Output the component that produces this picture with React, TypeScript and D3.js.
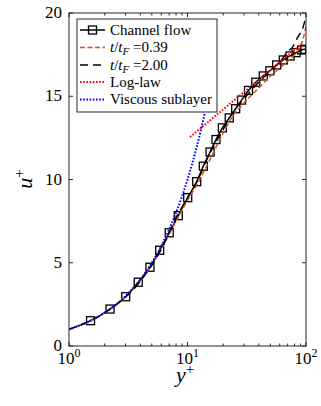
import React from 'react';
import * as d3 from 'd3';

const W = 321;
const H = 406;

// Channel flow (DNS) profile
const channelYp = [1, 1.52, 2.22, 3.01, 3.84, 4.82, 5.82, 7.01, 8.36, 10.04, 11.96, 13.6, 15.5, 17.4, 19.7, 22.5, 25.5, 28.6, 32.7, 37.7, 43.6, 49.6, 56.5, 64.3, 73.3, 82.5, 91.8, 98];
const channelUp = [1, 1.52, 2.22, 2.96, 3.83, 4.73, 5.75, 6.8, 7.83, 8.91, 9.87, 10.8, 11.65, 12.4, 13.1, 13.7, 14.25, 14.77, 15.35, 15.84, 16.22, 16.53, 16.88, 17.18, 17.42, 17.62, 17.78, 17.82];

// t/tF = 0.39
const t039Yp = [1, 2, 4, 6, 8, 10, 12, 15, 20, 24.4, 30, 40.9, 50, 60.3, 70, 78, 89, 95, 100];
const t039Up = [1, 2, 3.9, 5.8, 7.5, 8.75, 9.7, 11.0, 12.8, 13.87, 14.6, 15.57, 16.2, 16.7, 17.1, 17.4, 17.98, 18.5, 19.2];

// t/tF = 2.00
const t200Yp = [1, 2, 4, 6, 8, 10, 12, 15, 20, 25, 30, 40, 50, 60, 70.6, 77.8, 85.7, 93, 100];
const t200Up = [1, 2, 3.9, 5.8, 7.7, 8.9, 9.87, 11.4, 13.0, 14.2, 14.85, 15.85, 16.5, 17.05, 17.7, 18.0, 18.58, 19.0, 19.8];

// Log-law
const logLawYp = [10.5, 94.3];
const logLawUp = [12.55, 18.2];

// Viscous sublayer u+ = y+
const viscYp = [1, 1.5, 2, 3, 4, 5, 6, 7, 8, 9, 10, 11, 12, 13, 14];
const viscUp = [1, 1.5, 2, 3, 4, 5, 6, 7, 8, 9, 10, 11, 12, 13, 14];

const yTicks = [0, 5, 10, 15, 20];
const xTicks = [1, 10, 100];
const xTickExp = ['0', '1', '2'];

const FONT = '"Liberation Serif"';
const AX = '#262626';
const ORANGE = '#D95319';

export default function App() {
  const L = 69, R = 306, T = 13, B = 346;
  const x = d3.scaleLog().domain([1, 100]).range([L, R]);
  const y = d3.scaleLinear().domain([0, 20]).range([B, T]);

  const mk = (xs: number[], ys: number[]) =>
    d3.line<number>().x((_, i) => x(xs[i])).y((_, i) => y(ys[i])).curve(d3.curveMonotoneX)(xs.map((_, i) => i)) || '';

  const minor: number[] = [];
  for (const dec of [1, 10]) for (let k = 2; k <= 9; k++) minor.push(dec * k);

  const legX0 = 77, legY0 = 19, legW = 140, legH = 93;
  const rows = [30, 47.5, 65, 82, 99.5];
  const s0 = 80, s1 = 105, tx = 110;
  const lfs = 15;
  const ts = { fontFamily: FONT };

  return (
    <svg width={W} height={H} style={{ position: 'absolute', left: 0, top: 0, background: '#fff' }}>
      <defs>
        <clipPath id="plot"><rect x={L} y={T} width={R - L} height={B - T} /></clipPath>
      </defs>
      <rect x={0} y={0} width={W} height={H} fill="#fff" />
      <g clipPath="url(#plot)">
        <path d={mk(channelYp, channelUp)} fill="none" stroke="#000" strokeWidth={1.5} />
        {channelYp.slice(1).map((v, i) => (
          <rect key={i} x={x(v) - 4} y={y(channelUp[i + 1]) - 4} width={8} height={8} fill="none" stroke="#000" strokeWidth={1.3} />
        ))}
        <path d={mk(t039Yp, t039Up)} fill="none" stroke={ORANGE} strokeWidth={1.5} strokeDasharray="5,2.5" />
        <path d={mk(t200Yp, t200Up)} fill="none" stroke="#000" strokeWidth={1.5} strokeDasharray="8,5" />
        <path d={mk(logLawYp, logLawUp)} fill="none" stroke="#FF0000" strokeWidth={2} strokeDasharray="1.6,1.6" />
        <path d={mk(viscYp, viscUp)} fill="none" stroke="#0000FF" strokeWidth={2} strokeDasharray="1.6,1.6" />
      </g>

      {/* axes box */}
      <rect x={L} y={T} width={R - L} height={B - T} fill="none" stroke={AX} strokeWidth={1} />
      {yTicks.map((t) => (
        <g key={'y' + t}>
          <line x1={L} x2={L + 4} y1={y(t)} y2={y(t)} stroke={AX} />
          <line x1={R} x2={R - 4} y1={y(t)} y2={y(t)} stroke={AX} />
          <text x={62} y={y(t) + 5} textAnchor="end" fontSize={17} fill="#000" style={ts}>{t}</text>
        </g>
      ))}
      {xTicks.map((t, i) => (
        <g key={'x' + t}>
          <line x1={x(t)} x2={x(t)} y1={B} y2={B - 4} stroke={AX} />
          <line x1={x(t)} x2={x(t)} y1={T} y2={T + 4} stroke={AX} />
          <text x={x(t)} y={364} textAnchor="middle" fontSize={17} fill="#000" style={ts}>
            10<tspan fontSize={12} dy={-7}>{xTickExp[i]}</tspan>
          </text>
        </g>
      ))}
      {minor.map((t) => (
        <g key={'m' + t}>
          <line x1={x(t)} x2={x(t)} y1={B} y2={B - 2.5} stroke={AX} />
          <line x1={x(t)} x2={x(t)} y1={T} y2={T + 2.5} stroke={AX} />
        </g>
      ))}

      {/* axis labels */}
      <text x={185} y={382} textAnchor="middle" fontSize={22} fontStyle="italic" fill="#000" style={ts}>
        y<tspan fontSize={15} fontStyle="normal" dy={-8}>+</tspan>
      </text>
      <text transform="translate(32,179) rotate(-90)" textAnchor="middle" fontSize={22} fontStyle="italic" fill="#000" style={ts}>
        u<tspan fontSize={15} fontStyle="normal" dy={-8}>+</tspan>
      </text>

      {/* legend */}
      <rect x={legX0} y={legY0} width={legW} height={legH} fill="#fff" stroke={AX} strokeWidth={1} />
      <line x1={s0} x2={s1} y1={rows[0]} y2={rows[0]} stroke="#000" strokeWidth={1.5} />
      <rect x={(s0 + s1) / 2 - 4} y={rows[0] - 4} width={8} height={8} fill="none" stroke="#000" strokeWidth={1.3} />
      <text x={tx} y={rows[0] + 4.5} fontSize={lfs} style={ts}>Channel flow</text>

      <line x1={s0} x2={s1} y1={rows[1]} y2={rows[1]} stroke={ORANGE} strokeWidth={1.5} strokeDasharray="5,2.5" />
      <text x={tx} y={rows[1] + 4.5} fontSize={lfs} style={ts}>
        <tspan fontStyle="italic">t</tspan>/<tspan fontStyle="italic">t</tspan><tspan fontStyle="italic" fontSize={11} dy={3}>F</tspan><tspan dy={-3}> =0.39</tspan>
      </text>

      <line x1={s0} x2={s1} y1={rows[2]} y2={rows[2]} stroke="#000" strokeWidth={1.5} strokeDasharray="8,5" />
      <text x={tx} y={rows[2] + 4.5} fontSize={lfs} style={ts}>
        <tspan fontStyle="italic">t</tspan>/<tspan fontStyle="italic">t</tspan><tspan fontStyle="italic" fontSize={11} dy={3}>F</tspan><tspan dy={-3}> =2.00</tspan>
      </text>

      <line x1={s0} x2={s1} y1={rows[3]} y2={rows[3]} stroke="#FF0000" strokeWidth={2} strokeDasharray="1.6,1.6" />
      <text x={tx} y={rows[3] + 4.5} fontSize={lfs} style={ts}>Log-law</text>

      <line x1={s0} x2={s1} y1={rows[4]} y2={rows[4]} stroke="#0000FF" strokeWidth={2} strokeDasharray="1.6,1.6" />
      <text x={tx} y={rows[4] + 4.5} fontSize={lfs} style={ts}>Viscous sublayer</text>
    </svg>
  );
}
